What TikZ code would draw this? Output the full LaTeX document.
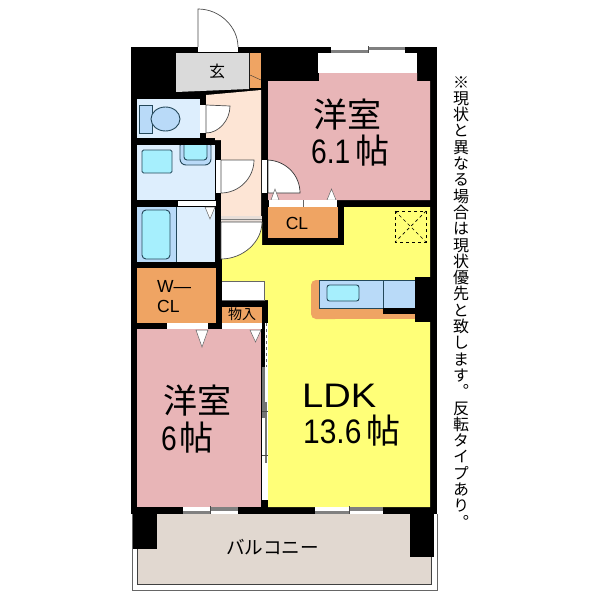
\documentclass[tikz,border=0pt]{standalone}
\usepackage{fontspec}
\setmainfont{Liberation Sans}
\newfontfamily\jpfont{Noto Sans CJK JP}
\newfontfamily\jpvert[RawFeature=+vert]{Noto Sans CJK JP}
\newcommand{\narrowdigits}[1]{\scalebox{0.83}[1]{#1}}
\definecolor{roompink}{HTML}{E8B5B7}
\definecolor{ldkyellow}{HTML}{FFFF78}
\definecolor{hallpeach}{HTML}{FDE5D5}
\definecolor{wetblue}{HTML}{DDEEFD}
\definecolor{midblue}{HTML}{B9DAF8}
\definecolor{tubcyan}{HTML}{A6EFFD}
\definecolor{closetorange}{HTML}{EFA463}
\definecolor{entrygray}{HTML}{DADADA}
\definecolor{balconybeige}{HTML}{E1D8D0}
\definecolor{fixture}{HTML}{24485A}
\begin{document}
\begin{tikzpicture}[x=1pt, y=-1pt,
    room/.style={line width=0.5pt},
    fixt/.style={draw=fixture, line width=0.9pt},
    doorleaf/.style={fill=white, draw=black!70, line width=0.7pt},
    opening/.style={fill=white},
    notch/.style={fill=white, draw=black!60, line width=0.5pt},
    bigtext/.style={font=\fontsize{34}{38}\selectfont, anchor=base west, inner sep=0pt},
    midtext/.style={font=\fontsize{17.5}{19.5}\selectfont, align=left, inner sep=0pt}]
  \useasboundingbox (0, 0) rectangle (600, 600);
  \fill[white] (0, 0) rectangle (600, 600);
  % balcony
  \draw[black!60, line width=0.8pt] (132, 514) -- (132, 590) -- (437, 590) -- (437, 514);
  \fill[balconybeige] (137, 514) rectangle (431, 584);
  \draw[black!75, line width=0.8pt] (137, 549) -- (137, 584) -- (431, 584) -- (431, 557);
  % walls
  \fill[black] (131, 47) rectangle (437, 514);
  \fill[black] (133, 514) rectangle (157, 549);
  \fill[black] (410, 514) rectangle (434, 557);
  % entrance
  \draw[doorleaf, fill=none] (198, 47) -- (198, 9) .. controls (220, 9) and (238, 27) .. (238, 47);
  \fill[opening] (198, 47) rectangle (238, 52);
  \fill[entrygray] (176, 53) -- (249, 53) -- (249, 89) -- (176, 92) -- cycle;
  \fill[closetorange] (250, 53) rectangle (261, 88);
  \draw[black!80] (250, 75) -- (261, 80);
  \node[font=\fontsize{16}{20}\jpfont, inner sep=0pt] (entrylabel) at (217, 71) {玄};
  % hall
  \fill[hallpeach] (206, 95) -- (261, 90) -- (261, 216) -- (221, 216) -- (221, 140) -- (206, 140) -- cycle;
  % toilet
  \fill[wetblue] (137, 99) rectangle (200, 138);
  \filldraw[fixt, fill=midblue] (139, 105) rectangle (152, 133);
  \filldraw[fixt, fill=midblue] (165.5, 119) ellipse (14.5 and 12);
  \fill[opening] (200, 105) rectangle (206, 133);
  \draw[doorleaf] (206, 105) -- (230, 106) .. controls (230, 120) and (219, 133) .. (206, 133) -- cycle;
  % washroom
  \fill[wetblue] (137, 145) rectangle (215, 200);
  \filldraw[fixt, fill=tubcyan, rounded corners=1.5pt] (142, 150) rectangle (172, 173);
  \filldraw[fixt, fill=midblue, rounded corners=6pt] (180, 140) rectangle (211, 165);
  \filldraw[fixt, fill=tubcyan, rounded corners=3pt] (184, 140) rectangle (207, 160);
  \fill[black] (176, 138) rectangle (215, 145);
  \fill[opening] (216, 160) rectangle (221, 193);
  \draw[doorleaf] (221, 160) -- (254, 160) .. controls (254, 178) and (239, 193) .. (221, 193) -- cycle;
  % bath
  \fill[wetblue] (137, 207) rectangle (215, 262);
  \fill[midblue] (137, 207) rectangle (176, 262);
  \draw[fixture, line width=0.6pt] (176, 207) -- (176, 262);
  \filldraw[fixt, fill=tubcyan, rounded corners=4pt] (142, 210) rectangle (170, 259);
  \fill[opening] (178, 201) rectangle (216, 206);
  \draw[notch] (205, 207) -- (215, 207) -- (210, 219) -- cycle;
  % walk-in closet
  \fill[closetorange] (137, 268) rectangle (216, 323);
  \node[midtext, anchor=west] (wcllabel) at (157, 296.5) {W---\\CL};
  \fill[opening] (167, 323) rectangle (208, 329);
  % bedroom 6
  \fill[roompink] (137, 329) rectangle (261, 507);
  \draw[notch] (196, 330) -- (208, 330) -- (202, 347) -- cycle;
  \draw[notch] (250, 330) -- (261, 330) -- (255.5, 342) -- cycle;
  \node[bigtext] (bedroombname) at (163, 413) {\jpfont 洋室};
  \node[bigtext] (bedroombsize) at (161, 450) {\narrowdigits{6}\hspace{3pt}\jpfont 帖};
  % storage
  \fill[closetorange] (222, 307) rectangle (262, 323);
  \node[font=\fontsize{14}{16}\jpfont, inner sep=0pt] (storelabel) at (242, 314) {物入};
  \fill[opening] (222, 323) rectangle (262, 329);
  % ldk
  \fill[ldkyellow] (222, 222) -- (262, 222) -- (262, 245) -- (344, 245) -- (344, 207) -- (430, 207)
    -- (430, 507) -- (268, 507) -- (268, 300) -- (222, 300) -- cycle;
  \draw[black!60, fill=white, line width=0.6pt] (222, 281) -- (264, 281) -- (264, 300) -- (222, 300);
  \fill[hallpeach!40!entrygray] (221, 216) rectangle (262, 222);
  \draw[black!50] (221, 219) -- (262, 219);
  \draw[doorleaf] (221, 222) -- (262, 222) .. controls (262, 242) and (243, 259) .. (221, 259) -- cycle;
  \node[bigtext] (ldkname) at (302, 407) {\scalebox{1.12}[1]{LDK}};
  \node[bigtext] (ldksize) at (303, 443) {\scalebox{0.88}[1]{13.6}\hspace{5pt}\jpfont 帖};
  % sliding door
  \fill[opening] (262, 323) rectangle (268, 500);
  \fill[black] (262, 323) rectangle (265, 367);
  \draw[black!60, dashed, line width=0.8pt] (266.5, 323) -- (266.5, 367);
  \fill[black!55] (262, 367) rectangle (265, 418);
  \fill[black!55] (265, 402) rectangle (267, 463);
  \draw[black!70, line width=0.5pt] (262, 411) -- (268, 411);
  \draw[black!70, line width=0.5pt] (262, 455) -- (268, 455);
  % bedroom 6.1
  \fill[roompink] (268, 81) -- (319, 81) -- (319, 73) -- (417, 73) -- (417, 81) -- (430, 81) -- (430, 200) -- (268, 200) -- cycle;
  \fill[opening] (318, 53) rectangle (417, 73);
  \fill[opening] (262, 160) rectangle (267, 193);
  \draw[doorleaf, draw=black!80] (268, 160) .. controls (286, 161) and (300, 175) .. (300, 193) -- (268, 193) -- cycle;
  \draw[notch] (271, 200) -- (275, 189) -- (279, 200) -- cycle;
  \draw[notch] (327, 200) -- (331.5, 189) -- (336, 200) -- cycle;
  \node[bigtext] (bedroomaname) at (313, 127) {\jpfont 洋室};
  \node[bigtext] (bedroomasize) at (311, 163) {\narrowdigits{6.1}\hspace{5pt}\jpfont 帖};
  % closet
  \fill[opening] (269, 200) rectangle (337, 207);
  \draw[black!60] (303, 200) -- (303, 207);
  \fill[closetorange] (268, 207) rectangle (338, 238);
  \node[font=\fontsize{17.5}{20}\selectfont, inner sep=0pt] (cllabel) at (297, 223) {CL};
  % kitchen
  \fill[closetorange, rounded corners=5pt] (311, 280) rectangle (340, 319);
  \fill[closetorange] (325, 280) rectangle (415, 319);
  \filldraw[fixt, fill=midblue, line width=0.6pt] (319, 280) rectangle (415, 308);
  \draw[fixture, line width=0.6pt] (383, 280) -- (383, 308);
  \filldraw[fixt, fill=tubcyan, rounded corners=2.5pt] (327, 285) rectangle (359, 301);
  \fill[black] (383, 308) rectangle (415, 314);
  \fill[black] (415, 277) rectangle (437, 322);
  % vent
  \draw[dashed, line width=0.7pt] (395, 211) rectangle (426, 242);
  \draw[dashed, line width=0.7pt] (395, 211) -- (426, 242);
  \draw[dashed, line width=0.7pt] (426, 211) -- (395, 242);
  % windows
  \foreach \xa/\xm/\xb/\ya/\yb in {331/368/405/47/53, 183/210/238/507/514, 315/349/383/507/514} {
    \fill[white] (\xa, \ya) rectangle (\xb, \yb);
    \fill[black!50] (\xa, {(\ya+\yb)/2}) rectangle (\xm, \yb);
    \fill[black!50] (\xm, \ya) rectangle (\xb, {(\ya+\yb)/2});
    \draw[black!70, line width=0.5pt] (\xm, \ya-1) -- (\xm, \yb);
  }
  % balcony label and note
  \node[font=\fontsize{18.6}{22}\jpfont, inner sep=0pt] (balconylabel) at (272.5, 547) {バルコニー};
  \node[font=\fontsize{16}{16.3}\jpvert, align=center, anchor=north, inner sep=0pt] (notelabel) at (461, 76)
    {※\\現\\状\\と\\異\\な\\る\\場\\合\\は\\現\\状\\優\\先\\と\\致\\し\\ま\\す\\。\\反\\転\\タ\\イ\\プ\\あ\\り\\。};
\end{tikzpicture}
\end{document}
